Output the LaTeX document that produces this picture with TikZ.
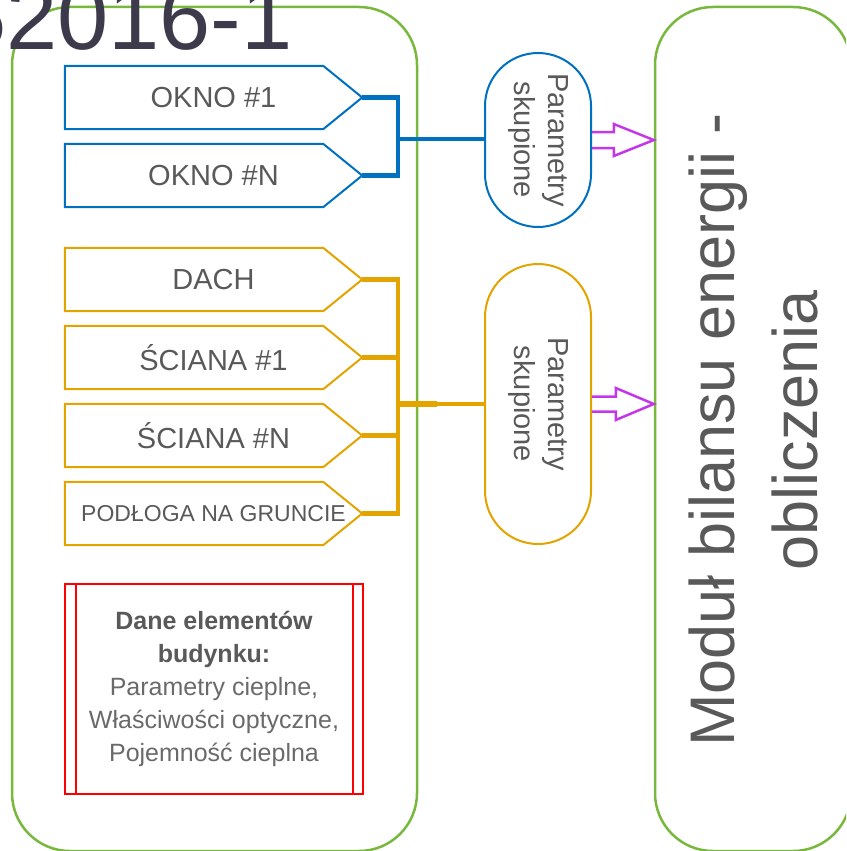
\documentclass[tikz,border=0pt]{standalone}
\usepackage{fontspec}
\setmainfont{Liberation Sans}
\usetikzlibrary{calc}
\definecolor{frame}{HTML}{78B83C}
\definecolor{win}{HTML}{0070C0}
\definecolor{opq}{HTML}{E3A400}
\definecolor{dat}{HTML}{FF0000}
\definecolor{flow}{HTML}{C437E8}
\definecolor{lbl}{HTML}{595959}
\definecolor{lbllight}{HTML}{6A6A6A}
\definecolor{ttl}{HTML}{3C3A4B}

\begin{document}
\begin{tikzpicture}[x=1pt,y=-1pt,
  panel/.style={draw=frame, line width=2.5pt, rounded corners=58pt, inner sep=0pt},
  elem/.style={minimum width=297pt, minimum height=63pt, inner sep=0pt, text=lbl,
               font=\fontsize{29}{34}\selectfont},
  outline/.style={line width=2pt, line join=miter},
  bus/.style={line width=4.5pt},
  capsule/.style={draw, line width=2pt, rotate=-90, minimum height=106pt,
                  rounded corners=53pt, align=center, text=lbl, inner sep=0pt,
                  font=\fontsize{29}{34}\selectfont},
  flowarrow/.style={draw=flow, line width=2.5pt, line join=miter},
]
\useasboundingbox (0,0) rectangle (846,851);
\clip (0,0) rectangle (846,851);

% the two large panels
\node[panel, minimum width=405pt, minimum height=844pt] (bld) at (214.5,429) {};
\node[panel, minimum width=196pt, minimum height=844pt] (mod) at (753,429) {};

% building elements
\node[elem] (okno1) at (213.5,97.5) {OKNO \#1};
\node[elem] (oknoN) at (213.5,175.5) {OKNO \#N};
\node[elem] (dach)  at (213.5,279.5) {DACH};
\node[elem] (scA)   at (213.5,357.5) {ŚCIANA \#1};
\node[elem] (scN)   at (213.5,435.5) {ŚCIANA \#N};
\node[elem, font=\fontsize{23}{27}\selectfont] (floor) at (213.5,513.5) {PODŁOGA NA GRUNCIE};

\foreach \n/\col in {okno1/win,oknoN/win,dach/opq,scA/opq,scN/opq,floor/opq}
  \draw[outline,\col] (\n.north west) -- ([xshift=-39pt]\n.north east) -- (\n.east)
        -- ([xshift=-39pt]\n.south east) -- (\n.south west) -- cycle;

% lumped parameter capsules
\node[capsule, draw=win, minimum width=174pt] (pb) at (538,140) {Parametry\\skupione};
\node[capsule, draw=opq, minimum width=280pt] (pc) at (538,404) {Parametry\\skupione};

% window bus
\coordinate (wj) at (398,139);
\draw[win,bus] (okno1.east) -| (wj) |- (oknoN.east);
\draw[win,bus] (wj) -- (wj -| pb.south);

% opaque element bus
\coordinate (oj) at (398,404);
\draw[opq,bus] (dach.east) -| (oj) |- (floor.east);
\draw[opq,bus] (scA.east) -- (scA.east -| oj);
\draw[opq,bus] (scN.east) -- (scN.east -| oj);
\draw[opq,line width=6pt] (oj) -- ++(39,0);
\draw[opq,line width=4pt] (oj) -- (oj -| pc.south);

% block arrows into the energy balance module
\coordinate (f1) at (pb.north);
\coordinate (t1) at (f1 -| mod.west);
\draw[flowarrow] ([yshift=-8pt]f1) -- ([xshift=-40pt,yshift=-8pt]t1) -- ([xshift=-40pt,yshift=-16pt]t1)
   -- (t1) -- ([xshift=-40pt,yshift=16pt]t1) -- ([xshift=-40pt,yshift=8pt]t1) -- ([yshift=8pt]f1);
\coordinate (f2) at (pc.north);
\coordinate (t2) at (f2 -| mod.west);
\draw[flowarrow] ([yshift=-7.5pt]f2) -- ([xshift=-38pt,yshift=-7.5pt]t2) -- ([xshift=-38pt,yshift=-16pt]t2)
   -- (t2) -- ([xshift=-38pt,yshift=16pt]t2) -- ([xshift=-38pt,yshift=7.5pt]t2) -- ([yshift=7.5pt]f2);

% module caption
\node[rotate=90, align=center, text=lbl, inner sep=0pt, font=\fontsize{63}{83}\selectfont]
  (modtxt) at (753.5,430) {Moduł bilansu energii -\\obliczenia};

% element data box
\node[draw=dat, line width=2pt, minimum width=298pt, minimum height=210pt, align=center,
      inner sep=0pt, text=lbllight, font=\fontsize{25}{33}\selectfont] (dane) at (214,689)
  {{\bfseries\color{lbl}Dane elementów}\\{\bfseries\color{lbl}budynku:}\\Parametry cieplne,\\
   Właściwości optyczne,\\Pojemność cieplna};
\draw[dat, line width=2pt] ([xshift=12pt]dane.north west) -- ([xshift=12pt]dane.south west);
\draw[dat, line width=2pt] ([xshift=-11pt]dane.north east) -- ([xshift=-11pt]dane.south east);

% standard number
\node[anchor=base west, inner sep=0pt, text=ttl, font=\fontsize{92}{92}\selectfont]
  (std) at (-45,50) {52016-1};
\end{tikzpicture}
\end{document}
